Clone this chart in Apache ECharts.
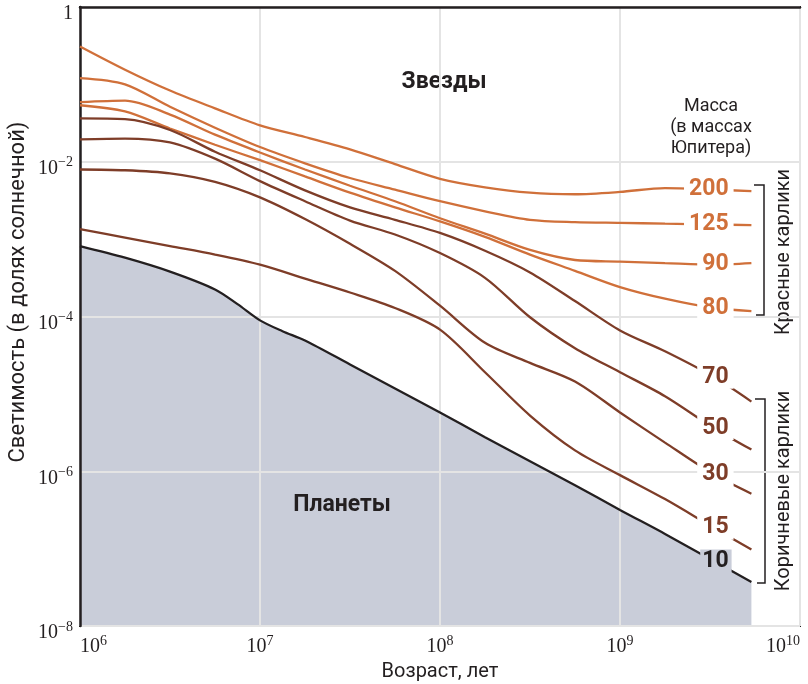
<!DOCTYPE html>
<html>
<head>
<meta charset="utf-8">
<script src="https://cdn.jsdelivr.net/npm/echarts@6/dist/echarts.min.js"></script>
<style>
html,body{margin:0;padding:0;background:#fff;}
#chart{width:808px;height:684px;}
</style>
</head>
<body>
<div id="chart"></div>
<script>
// Values are base-10 exponents: age in years, luminosity in solar units
const xTicks = [6, 7, 8, 9, 10];
const yTicks = [-8, -6, -4, -2, 0];
const masses = ['200', '125', '90', '80', '70', '50', '30', '15', '10'];
const labelAge = 9.52;

const age200 = [6.0, 6.25, 6.5, 6.75, 7.0, 7.25, 7.5, 7.75, 8.0, 8.25, 8.5, 8.75, 9.0, 9.25, 9.52, 9.73];
const lum200 = [-0.51, -0.81, -1.08, -1.31, -1.53, -1.68, -1.84, -2.03, -2.22, -2.33, -2.40, -2.42, -2.39, -2.34, -2.36, -2.38];

const age125 = [6.0, 6.25, 6.5, 6.75, 7.0, 7.25, 7.5, 7.75, 8.0, 8.25, 8.5, 8.75, 9.0, 9.25, 9.52, 9.73];
const lum125 = [-0.92, -1.00, -1.29, -1.56, -1.81, -2.02, -2.21, -2.36, -2.51, -2.64, -2.75, -2.78, -2.79, -2.80, -2.81, -2.82];

const age90 = [6.0, 6.25, 6.5, 6.75, 7.0, 7.25, 7.5, 7.75, 8.0, 8.25, 8.5, 8.75, 9.0, 9.25, 9.52, 9.73];
const lum90 = [-1.23, -1.21, -1.39, -1.65, -1.88, -2.10, -2.31, -2.51, -2.73, -2.93, -3.14, -3.27, -3.29, -3.31, -3.33, -3.31];

const age80 = [6.0, 6.25, 6.5, 6.75, 7.0, 7.25, 7.5, 7.75, 8.0, 8.25, 8.5, 8.75, 9.0, 9.25, 9.52, 9.73];
const lum80 = [-1.27, -1.35, -1.57, -1.78, -1.98, -2.19, -2.40, -2.59, -2.77, -2.97, -3.20, -3.41, -3.62, -3.77, -3.89, -3.93];

const age70 = [6.0, 6.25, 6.5, 6.75, 7.0, 7.25, 7.5, 7.75, 8.0, 8.25, 8.5, 8.75, 9.0, 9.25, 9.52, 9.73];
const lum70 = [-1.44, -1.45, -1.59, -1.87, -2.11, -2.37, -2.59, -2.75, -2.92, -3.15, -3.43, -3.80, -4.18, -4.45, -4.78, -5.10];

const age50 = [6.0, 6.25, 6.5, 6.75, 7.0, 7.25, 7.5, 7.75, 8.0, 8.25, 8.5, 8.75, 9.0, 9.25, 9.52, 9.73];
const lum50 = [-1.71, -1.70, -1.75, -1.96, -2.25, -2.51, -2.76, -2.94, -3.18, -3.50, -4.01, -4.41, -4.72, -5.03, -5.44, -5.72];

const age30 = [6.0, 6.25, 6.5, 6.75, 7.0, 7.25, 7.5, 7.75, 8.0, 8.25, 8.5, 8.75, 9.0, 9.25, 9.52, 9.73];
const lum30 = [-2.10, -2.11, -2.15, -2.26, -2.46, -2.74, -3.06, -3.41, -3.86, -4.34, -4.60, -4.84, -5.24, -5.63, -6.04, -6.29];

const age15 = [6.0, 6.25, 6.5, 6.75, 7.0, 7.25, 7.5, 7.75, 8.0, 8.25, 8.5, 8.75, 9.0, 9.25, 9.52, 9.73];
const lum15 = [-2.87, -2.98, -3.09, -3.20, -3.33, -3.51, -3.69, -3.89, -4.17, -4.72, -5.28, -5.73, -6.05, -6.36, -6.73, -7.01];

const age10 = [6.0, 6.25, 6.5, 6.75, 6.875, 7.0, 7.125, 7.25, 7.5, 7.75, 8.0, 8.25, 8.5, 8.75, 9.0, 9.25, 9.52, 9.73];
const lum10 = [-3.09, -3.24, -3.42, -3.65, -3.84, -4.05, -4.19, -4.31, -4.62, -4.93, -5.24, -5.56, -5.87, -6.18, -6.50, -6.81, -7.16, -7.43];

const ORANGE = '#d0703a', BROWN = '#7e3d28', BLACK = '#231f20', AREA = '#c9cdd9';
const SANS = "Roboto, 'Noto Sans', sans-serif";
const SERIF = "'Liberation Serif', 'DejaVu Serif', serif";

const curves = [
  [age200, lum200, ORANGE], [age125, lum125, ORANGE], [age90, lum90, ORANGE], [age80, lum80, ORANGE],
  [age70, lum70, BROWN], [age50, lum50, BROWN], [age30, lum30, BROWN], [age15, lum15, BROWN],
  [age10, lum10, BLACK]
];

function buildData(ages, lums, name, color, bg, pad, off) {
  return ages.map((a, j) => {
    if (a === labelAge) {
      return {
        value: [a, lums[j]], symbol: 'circle', symbolSize: 1,
        itemStyle: { color: color },
        label: {
          show: true, position: 'inside', align: 'right', offset: [off, 0],
          formatter: name, color: color,
          fontFamily: SANS, fontWeight: 'bold', fontSize: 23,
          backgroundColor: bg, padding: pad
        }
      };
    }
    return [a, lums[j]];
  });
}

const series = [];
// planet region (area under the 10 Mj track)
series.push({
  type: 'line', z: -1, silent: true, symbol: 'none', smooth: 0.3,
  data: age10.map((a, j) => [a, lum10[j]]),
  lineStyle: { width: 0, opacity: 0 },
  areaStyle: { color: AREA, opacity: 1, origin: 'start' }
});
curves.forEach((c, i) => {
  const last = i === 8;
  series.push({
    type: 'line', name: masses[i], silent: true, smooth: 0.3,
    symbol: 'none', showSymbol: true,
    data: buildData(c[0], c[1], masses[i], c[2], last ? AREA : '#ffffff',
                    last ? [0, 3, 0, 2] : [1, 5, 0, 5], last ? 18 : 20),
    lineStyle: { color: c[2], width: 2.3 },
    itemStyle: { color: c[2] }
  });
});

const chart = echarts.init(document.getElementById('chart'), null, { renderer: 'canvas' });
chart.setOption({
  animation: false,
  backgroundColor: '#ffffff',
  grid: { left: 80, right: 8, top: 7, bottom: 58, outerBoundsMode: 'none', containLabel: false,
          show: true, borderColor: BLACK, borderWidth: 2, backgroundColor: 'transparent' },
  xAxis: {
    type: 'value', min: xTicks[0], max: xTicks[xTicks.length - 1], interval: 1,
    name: 'Возраст, лет', nameLocation: 'middle', nameGap: 31,
    nameTextStyle: { fontFamily: SANS, fontSize: 20, color: BLACK },
    axisLine: { show: true, lineStyle: { color: BLACK, width: 2.5 } },
    axisTick: { show: false },
    splitLine: { show: true, lineStyle: { color: '#e4e4e4', width: 2 } },
    axisLabel: {
      margin: 8, color: BLACK, alignMinLabel: 'left', alignMaxLabel: 'right',
      formatter: v => '{b|10}{s|' + v + '}',
      rich: {
        b: { fontFamily: SERIF, fontSize: 20, color: BLACK },
        s: { fontFamily: SERIF, fontSize: 14, color: BLACK, padding: [0, 0, 12, 0] }
      }
    }
  },
  yAxis: {
    type: 'value', min: yTicks[0], max: yTicks[yTicks.length - 1], interval: 2,
    axisLine: { show: true, lineStyle: { color: BLACK, width: 2.5 } },
    axisTick: { show: false },
    splitLine: { show: true, lineStyle: { color: '#e4e4e4', width: 2 } },
    axisLabel: {
      margin: 7, color: BLACK, padding: [14, 0, 0, 0],
      formatter: v => v === 0 ? '{b|1}' : '{b|10}{s|\u2212' + (-v) + '}',
      rich: {
        b: { fontFamily: SERIF, fontSize: 20, color: BLACK },
        s: { fontFamily: SERIF, fontSize: 14, color: BLACK, padding: [0, 0, 12, 0] }
      }
    }
  },
  graphic: [
    { type: 'text', x: 18, y: 292, rotation: Math.PI / 2, silent: true,
      style: { text: 'Светимость (в долях солнечной)', align: 'center', verticalAlign: 'middle', font: '22px ' + SANS, fill: BLACK } },
    { type: 'text', x: 444, y: 82, silent: true,
      style: { text: 'Звезды', align: 'center', verticalAlign: 'middle', font: 'bold 23px ' + SANS, fill: BLACK } },
    { type: 'text', x: 342, y: 505, silent: true,
      style: { text: 'Планеты', align: 'center', verticalAlign: 'middle', font: 'bold 23px ' + SANS, fill: BLACK } },
    { type: 'text', x: 711, y: 106, silent: true,
      style: { text: 'Масса', align: 'center', verticalAlign: 'middle', font: '18px ' + SANS, fill: BLACK } },
    { type: 'text', x: 711, y: 127, silent: true,
      style: { text: '(в массах', align: 'center', verticalAlign: 'middle', font: '18px ' + SANS, fill: BLACK } },
    { type: 'text', x: 711, y: 148, silent: true,
      style: { text: 'Юпитера)', align: 'center', verticalAlign: 'middle', font: '18px ' + SANS, fill: BLACK } },
    { type: 'text', x: 784, y: 252, rotation: Math.PI / 2, silent: true,
      style: { text: 'Красные карлики', align: 'center', verticalAlign: 'middle', font: '20px ' + SANS, fill: BLACK } },
    { type: 'text', x: 784, y: 491, rotation: Math.PI / 2, silent: true,
      style: { text: 'Коричневые карлики', align: 'center', verticalAlign: 'middle', font: '20px ' + SANS, fill: BLACK } },
    { type: 'polyline', silent: true, shape: { points: [[754, 185], [764, 185], [764, 315], [756, 315]] },
      style: { stroke: BLACK, lineWidth: 1.5, fill: null } },
    { type: 'polyline', silent: true, shape: { points: [[755, 399], [765, 399], [765, 583], [757, 583]] },
      style: { stroke: BLACK, lineWidth: 1.5, fill: null } }
  ],
  series: series
});
</script>
</body>
</html>
